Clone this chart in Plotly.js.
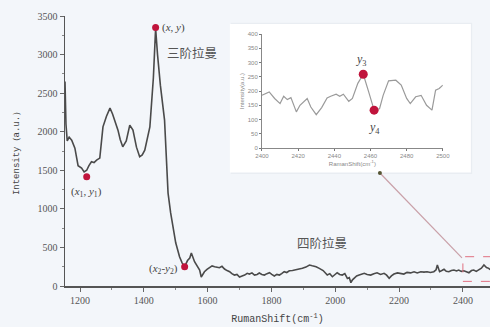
<!DOCTYPE html>
<html><head><meta charset="utf-8">
<script src="https://cdn.plot.ly/plotly-3.0.1.min.js"></script>
<style>html,body{margin:0;padding:0;background:#f3f6fa;}#c{width:490px;height:327px;}</style>
</head><body><div id="c"></div>
<script>
// Main Raman spectrum
const shiftX = [1153,1156,1160,1166,1174,1184,1194,1205,1213,1221,1228,1236,1244,1252,1262,1272,1283,1294,1302,1309,1319,1326,1334,1345,1356,1366,1377,1387,1395,1403,1411,1419,1430,1437,1443,1452,1465,1472,1476,1484,1491,1500,1512,1520,1528,1537,1544,1549,1559,1567,1575,1580,1590,1598,1606,1614,1622,1630,1637,1645,1653,1661,1669,1676,1684,1692,1700,1708,1716,1724,1731,1739,1747,1755,1762,1770,1778,1786,1794,1801,1809,1817,1825,1832,1840,1848,1856,1866,1877,1887,1897,1908,1919,1928,1940,1950,1962,1975,1983,1991,1998,2006,2014,2022,2030,2038,2044,2049,2054,2059,2067,2075,2083,2091,2100,2111,2121,2131,2142,2153,2161,2169,2176,2184,2195,2205,2215,2225,2236,2247,2257,2268,2278,2288,2298,2309,2316,2320,2324,2327,2334,2341,2348,2356,2364,2372,2380,2387,2395,2403,2411,2419,2427,2434,2442,2450,2458,2466,2474,2481,2485];
const intensity = [2650,2100,1880,1930,1890,1787,1560,1528,1480,1500,1560,1610,1600,1632,1658,2063,2200,2305,2230,2150,2020,1900,1804,1880,2085,2020,1800,1675,1700,1761,1900,2063,2700,3340,3000,2600,2150,1632,1204,950,768,560,380,300,250,330,362,427,315,260,207,117,185,215,233,260,250,240,237,255,220,200,185,160,142,150,117,130,142,165,155,170,142,150,168,150,142,160,172,150,130,150,142,160,185,175,198,200,207,215,229,245,272,262,250,229,200,142,160,120,150,172,150,142,160,99,110,43,80,99,130,142,150,164,150,142,160,172,150,164,140,99,130,155,170,164,155,177,170,185,170,185,180,185,175,185,210,272,230,185,200,216,190,185,200,207,195,207,190,198,185,172,200,207,190,216,230,272,240,229,210];
// Marked points on main spectrum
const markX = [1221,1437,1528];
const markY = [1415,3350,250];
// Inset spectrum (zoom of 2400-2500)
const insetX = [2400,2404,2407,2410,2412,2414,2416,2419,2421,2425,2427,2430,2433,2436,2438,2441,2443,2445,2448,2450,2453,2456,2459,2462,2465,2467,2470,2474,2477,2480,2482,2485,2488,2491,2494,2496,2498,2500];
const insetY = [185,197,174,156,182,170,177,127,150,174,144,117,142,176,182,189,182,189,164,174,227,259,197,133,138,185,236,238,221,174,156,180,185,150,133,203,209,221];
const insetMarkX = [2456,2462];
const insetMarkY = [259,133];
const mainTicksX = [1200,1400,1600,1800,2000,2200,2400];
const mainTicksY = [0,500,1000,1500,2000,2500,3000,3500];
const insetTicksX = [2400,2420,2440,2460,2480,2500];
const insetTicksY = [0,50,100,150,200,250,300,350,400];

const red = '#c0143c';
const traces = [
  {x: shiftX, y: intensity, type:'scatter', mode:'lines', line:{color:'#4a4a4a', width:1.6}, xaxis:'x', yaxis:'y', hoverinfo:'skip'},
  {x: markX, y: markY, type:'scatter', mode:'markers', marker:{color:red, size:7}, xaxis:'x', yaxis:'y'},
  {x: insetX, y: insetY, type:'scatter', mode:'lines', line:{color:'#9a9a9a', width:1.2}, xaxis:'x2', yaxis:'y2'},
  {x: insetMarkX, y: insetMarkY, type:'scatter', mode:'markers', marker:{color:red, size:9}, xaxis:'x2', yaxis:'y2'}
];

const tickFont = {family:'Liberation Serif, DejaVu Serif, serif', size:10, color:'#555'};
const monoFont = {family:'Liberation Mono, DejaVu Sans Mono, monospace', size:10, color:'#444'};
const tinyFont = {family:'Liberation Sans, sans-serif', size:6, color:'#888'};
const cjk = {family:'Noto Sans CJK SC, sans-serif', size:12.5, color:'#555'};
const serif11 = {family:'Liberation Serif, DejaVu Serif, serif', size:11, color:'#444'};

const layout = {
  width:490, height:327,
  margin:{l:65, r:0, t:16, b:41},
  paper_bgcolor:'#f3f6fa', plot_bgcolor:'rgba(0,0,0,0)',
  showlegend:false,
  xaxis:{range:[1153,2485], tickvals:mainTicksX, ticktext:mainTicksX.map(String), ticks:'outside', ticklen:4, tickcolor:'#666',
    minor:{dtick:100, tick0:1100, ticks:'outside', ticklen:2, tickcolor:'#888'},
    showline:true, linecolor:'#555', linewidth:2, showgrid:false, zeroline:false, tickfont:tickFont,
    title:{text:'RumanShift(cm<sup>-1</sup>)', font:monoFont, standoff:10}},
  yaxis:{range:[0,3500], tickvals:mainTicksY, ticktext:mainTicksY.map(String), ticks:'outside', ticklen:4, tickcolor:'#666',
    minor:{dtick:250, ticks:'outside', ticklen:2, tickcolor:'#888'},
    showline:true, linecolor:'#555', linewidth:1.5, showgrid:false, zeroline:false, tickfont:tickFont,
    title:{text:'Intensity（a.u.）', font:{...monoFont, size:9}, standoff:16}},
  xaxis2:{domain:[0.4635,0.889], anchor:'y2', range:[2400,2500], tickvals:insetTicksX, ticktext:insetTicksX.map(String),
    ticks:'outside', ticklen:2, tickcolor:'#777', showline:true, linecolor:'#888', linewidth:1, showgrid:false, zeroline:false,
    tickfont:tinyFont, title:{text:'RamanShift(cm<sup>-1</sup>)', font:tinyFont, standoff:2}},
  yaxis2:{domain:[0.511,0.933], anchor:'x2', range:[0,400], tickvals:insetTicksY, ticktext:insetTicksY.map(String),
    ticks:'outside', ticklen:2, tickcolor:'#777', showline:true, linecolor:'#888', linewidth:1, showgrid:false, zeroline:false,
    tickfont:tinyFont, title:{text:'Intensity(a.u.)', font:tinyFont, standoff:2}},
  shapes:[
    {type:'rect', xref:'paper', yref:'paper', x0:0.39, x1:0.958, y0:0.415, y1:0.975, fillcolor:'#e9edf2', line:{width:0}, layer:'below'},
    {type:'rect', xref:'paper', yref:'paper', x0:0.388, x1:0.955, y0:0.42, y1:0.97, fillcolor:'#ffffff', line:{width:0}, layer:'below'},
    {type:'rect', xref:'x', yref:'y', x0:2400, x1:2520, y0:60, y1:380, line:{color:'#e07080', width:1, dash:'dash'}, fillcolor:'rgba(0,0,0,0)'},
    {type:'line', xref:'paper', yref:'paper', x0:0.741, y0:0.4185, x1:0.934, y1:0.104, line:{color:'#c9a0a8', width:1.2}},
    {type:'circle', xref:'paper', yref:'paper', xsizemode:'pixel', ysizemode:'pixel', xanchor:0.741, yanchor:0.4185, x0:-2, x1:2, y0:-2, y1:2, fillcolor:'#553', line:{width:0}}
  ],
  annotations:[
    {x:1437, y:3350, xref:'x', yref:'y', text:'(<i>x</i>, <i>y</i>)', showarrow:false, xanchor:'left', xshift:4, font:serif11},
    {x:1465, y:3030, xref:'x', yref:'y', text:'三阶拉曼', showarrow:false, xanchor:'left', font:cjk},
    {x:1221, y:1415, xref:'x', yref:'y', text:'(<i>x</i><sub>1</sub>, <i>y</i><sub>1</sub>)', showarrow:false, yshift:-15, font:serif11},
    {x:1528, y:250, xref:'x', yref:'y', text:'(<i>x</i><sub>2</sub>-<i>y</i><sub>2</sub>)', showarrow:false, xanchor:'right', xshift:-5, yshift:-2, font:serif11},
    {x:1960, y:560, xref:'x', yref:'y', text:'四阶拉曼', showarrow:false, font:cjk},
    {x:2456, y:259, xref:'x2', yref:'y2', text:'<i>y</i><sub>3</sub>', showarrow:false, yshift:14, xshift:-2, font:{...serif11, size:12}},
    {x:2462, y:133, xref:'x2', yref:'y2', text:'<i>y</i><sub>4</sub>', showarrow:false, yshift:-18, font:{...serif11, size:12}}
  ]
};
Plotly.newPlot('c', traces, layout, {staticPlot:true, displayModeBar:false});
</script></body></html>
